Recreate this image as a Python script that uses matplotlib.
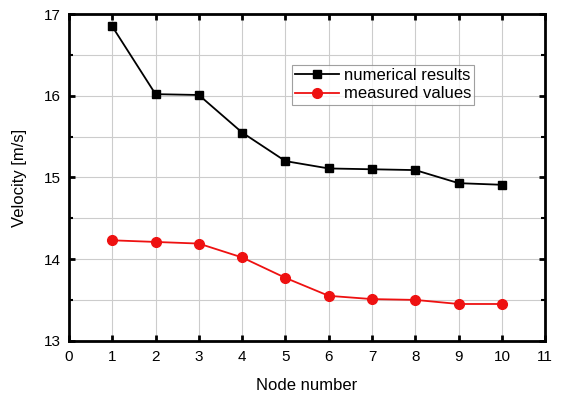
import matplotlib
matplotlib.use("Agg")
import matplotlib.pyplot as plt
from matplotlib.ticker import MultipleLocator

plt.rcParams['font.family'] = ['Liberation Sans', 'DejaVu Sans']

nodes = [1, 2, 3, 4, 5, 6, 7, 8, 9, 10]
numerical = [16.85, 16.02, 16.01, 15.55, 15.20, 15.11, 15.10, 15.09, 14.93, 14.91]
measured = [14.23, 14.21, 14.19, 14.02, 13.77, 13.55, 13.51, 13.50, 13.45, 13.45]

fig = plt.figure(figsize=(5.65, 3.93), dpi=100)
ax = fig.add_axes([0.122, 0.133, 0.843, 0.831])

ax.plot(nodes, numerical, color='black', marker='s', markersize=6, linewidth=1.3, label='numerical results')
ax.plot(nodes, measured, color='#ee1111', marker='o', markersize=7, linewidth=1.3, label='measured values')

ax.set_xlim(0, 11)
ax.set_ylim(13, 17)
ax.xaxis.set_major_locator(MultipleLocator(1))
ax.yaxis.set_major_locator(MultipleLocator(1))
ax.yaxis.set_minor_locator(MultipleLocator(0.5))
ax.grid(True, which='both', color='#cccccc', linewidth=0.8)
ax.set_axisbelow(True)

for s in ax.spines.values():
    s.set_linewidth(2)
ax.tick_params(which='major', direction='in', length=4, width=2, top=True, right=True, labelsize=11)
ax.tick_params(axis='x', which='major', pad=7)
ax.tick_params(axis='y', which='major', pad=6)
ax.tick_params(which='minor', direction='in', length=3, width=1.5, top=True, right=True)
ax.tick_params(axis='x', which='minor', top=False, bottom=False)

ax.set_xlabel('Node number', fontsize=12, labelpad=10)
ax.set_ylabel('Velocity [m/s]', fontsize=12, labelpad=12)

leg = ax.legend(loc='upper left', bbox_to_anchor=(0.468, 0.845), fontsize=12, frameon=True,
                fancybox=False, edgecolor='#888888', borderpad=0.2, labelspacing=0.2,
                handlelength=2.6, handletextpad=0.3, borderaxespad=0)
leg.get_frame().set_linewidth(0.8)

fig.savefig('out.png', dpi=100)
